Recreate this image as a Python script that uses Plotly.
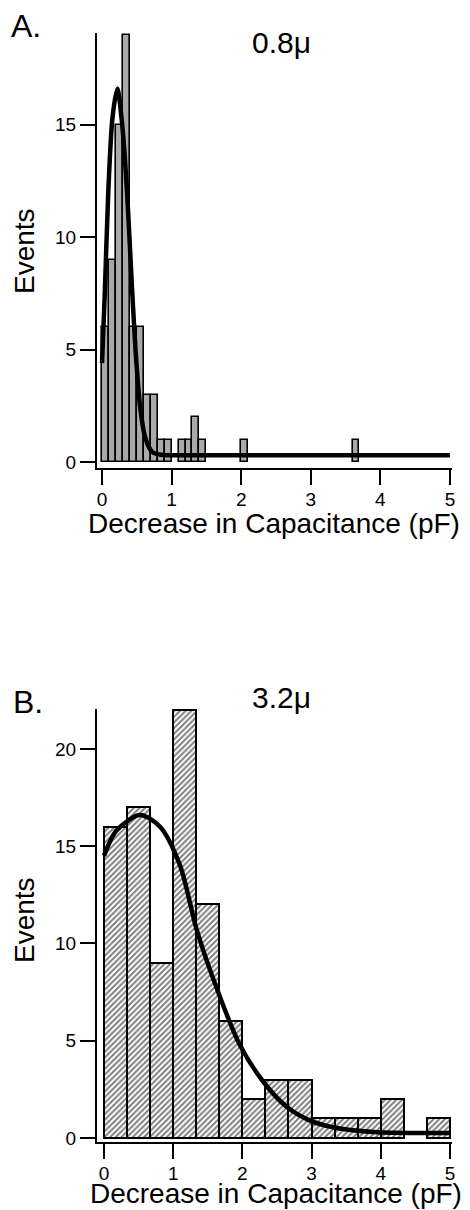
import plotly.graph_objects as go

# ---------------- data ----------------
# Panel A (0.8 micron): histogram with 0.1 pF bins (left edges) and counts
a_bin_width = 0.1
a_bin_left = [0.0, 0.1, 0.2, 0.3, 0.4, 0.5, 0.6, 0.7, 0.8, 0.9, 1.1, 1.2, 1.3, 1.4, 2.0, 3.6]
a_counts   = [6,   9,   15,  19,  6,   6,   3,   3,   1,   1,   1,   1,   2,   1,   1,   1]
# fitted curve, points
a_fit_x = [0.0, 0.04, 0.09, 0.15, 0.22, 0.29, 0.36, 0.43, 0.49, 0.55, 0.62, 0.72, 0.85, 1.0, 2.0, 3.0, 4.0, 5.0]
a_fit_y = [4.4, 7.5, 12.0, 15.3, 16.6, 15.0, 12.0, 7.8, 4.6, 2.4, 1.1, 0.45, 0.32, 0.3, 0.3, 0.3, 0.3, 0.3]

# Panel B (3.2 micron): histogram with 1/3 pF bins
b_bin_width = 1.0 / 3.0
b_bin_index = [0, 1, 2, 3, 4, 5, 6, 7, 8, 9, 10, 11, 12, 14]
b_counts    = [16, 17, 9, 22, 12, 6, 2, 3, 3, 1, 1, 1, 2, 1]
b_fit_x = [0.0, 0.18, 0.52, 0.81, 1.1, 1.34, 1.65, 1.96, 2.3, 2.64, 2.97, 3.31, 3.9, 4.5, 5.0]
b_fit_y = [14.5, 15.8, 16.6, 16.0, 14.0, 10.7, 7.5, 4.8, 2.9, 1.6, 0.9, 0.55, 0.3, 0.25, 0.25]

x_ticks = [0, 1, 2, 3, 4, 5]
a_y_ticks = [0, 5, 10, 15]
b_y_ticks = [0, 5, 10, 15, 20]

panel_labels = ["A.", "B."]
panel_titles = ["0.8\u03bc", "3.2\u03bc"]
x_title = "Decrease in Capacitance (pF)"
y_title = "Events"

# ---------------- figure ----------------
# the page body has an 8px default margin, so the figure is drawn 8px smaller
# and all page-pixel positions below are shifted by that offset
OFF = 8
W, H = 470 - OFF, 1210 - OFF
FONT = "Liberation Sans, Arial, Helvetica, sans-serif"

def px_y(y):
    return 1 - (y - OFF) / H

def px_x(x):
    return (x - OFF) / W

fig = go.Figure()

fig.add_trace(go.Bar(
    x=[l + a_bin_width / 2 for l in a_bin_left], y=a_counts, width=a_bin_width,
    xaxis="x", yaxis="y",
    marker=dict(color="#a9a9a9", line=dict(color="black", width=1.6)),
    showlegend=False,
))
fig.add_trace(go.Scatter(
    x=a_fit_x, y=a_fit_y, mode="lines", xaxis="x", yaxis="y",
    line=dict(color="black", width=4.5, shape="spline", smoothing=0.8),
    showlegend=False,
))

fig.add_trace(go.Bar(
    x=[(i + 0.5) * b_bin_width for i in b_bin_index], y=b_counts, width=b_bin_width,
    xaxis="x2", yaxis="y2",
    marker=dict(color="white", line=dict(color="black", width=2),
                pattern=dict(shape="/", size=4, solidity=0.5, fgcolor="black", bgcolor="white")),
    showlegend=False,
))
fig.add_trace(go.Scatter(
    x=b_fit_x, y=b_fit_y, mode="lines", xaxis="x2", yaxis="y2",
    line=dict(color="black", width=4.5, shape="spline", smoothing=0.8),
    showlegend=False,
))

axis_common = dict(
    showgrid=False, zeroline=False, showline=True, linecolor="black", linewidth=2,
    ticks="outside", ticklen=15, tickwidth=2, tickcolor="black", automargin=False,
    tickfont=dict(family=FONT, size=19, color="black"),
)

xdom = [px_x(97), px_x(452)]
fig.update_layout(
    width=W, height=H,
    margin=dict(l=0, r=0, t=0, b=0, autoexpand=False),
    paper_bgcolor="white", plot_bgcolor="white",
    bargap=0,
    xaxis=dict(domain=xdom, anchor="y", range=[-0.072, 5.03], tickvals=x_ticks, ticklabelstandoff=-2, **axis_common),
    yaxis=dict(domain=[px_y(468), px_y(33)], anchor="x", range=[-0.266, 19.08], tickvals=a_y_ticks, **axis_common),
    xaxis2=dict(domain=xdom, anchor="y2", range=[-0.101, 5.03], tickvals=x_ticks, ticklabelstandoff=-2, **axis_common),
    yaxis2=dict(domain=[px_y(1142), px_y(709)], anchor="x2", range=[-0.21, 22.05], tickvals=b_y_ticks, **axis_common),
)

def ann(text, x, y, size, angle=0, xanchor="center"):
    fig.add_annotation(text=text, x=px_x(x), y=px_y(y), xref="paper", yref="paper",
                       xanchor=xanchor, yanchor="middle", showarrow=False, textangle=angle,
                       font=dict(family=FONT, size=size, color="black"))

# panel letters
ann(panel_labels[0], 9, 26, 32, xanchor="left")
ann(panel_labels[1], 11, 702, 32, xanchor="left")
# panel titles
ann(panel_titles[0], 281, 43, 30)
ann(panel_titles[1], 281, 697, 30)
# axis titles
ann(x_title, 274, 523, 28)
ann(x_title, 276, 1193, 28)
ann(y_title, 24, 251, 28, angle=-90)
ann(y_title, 24, 920, 28, angle=-90)

fig.write_html("out.html")
